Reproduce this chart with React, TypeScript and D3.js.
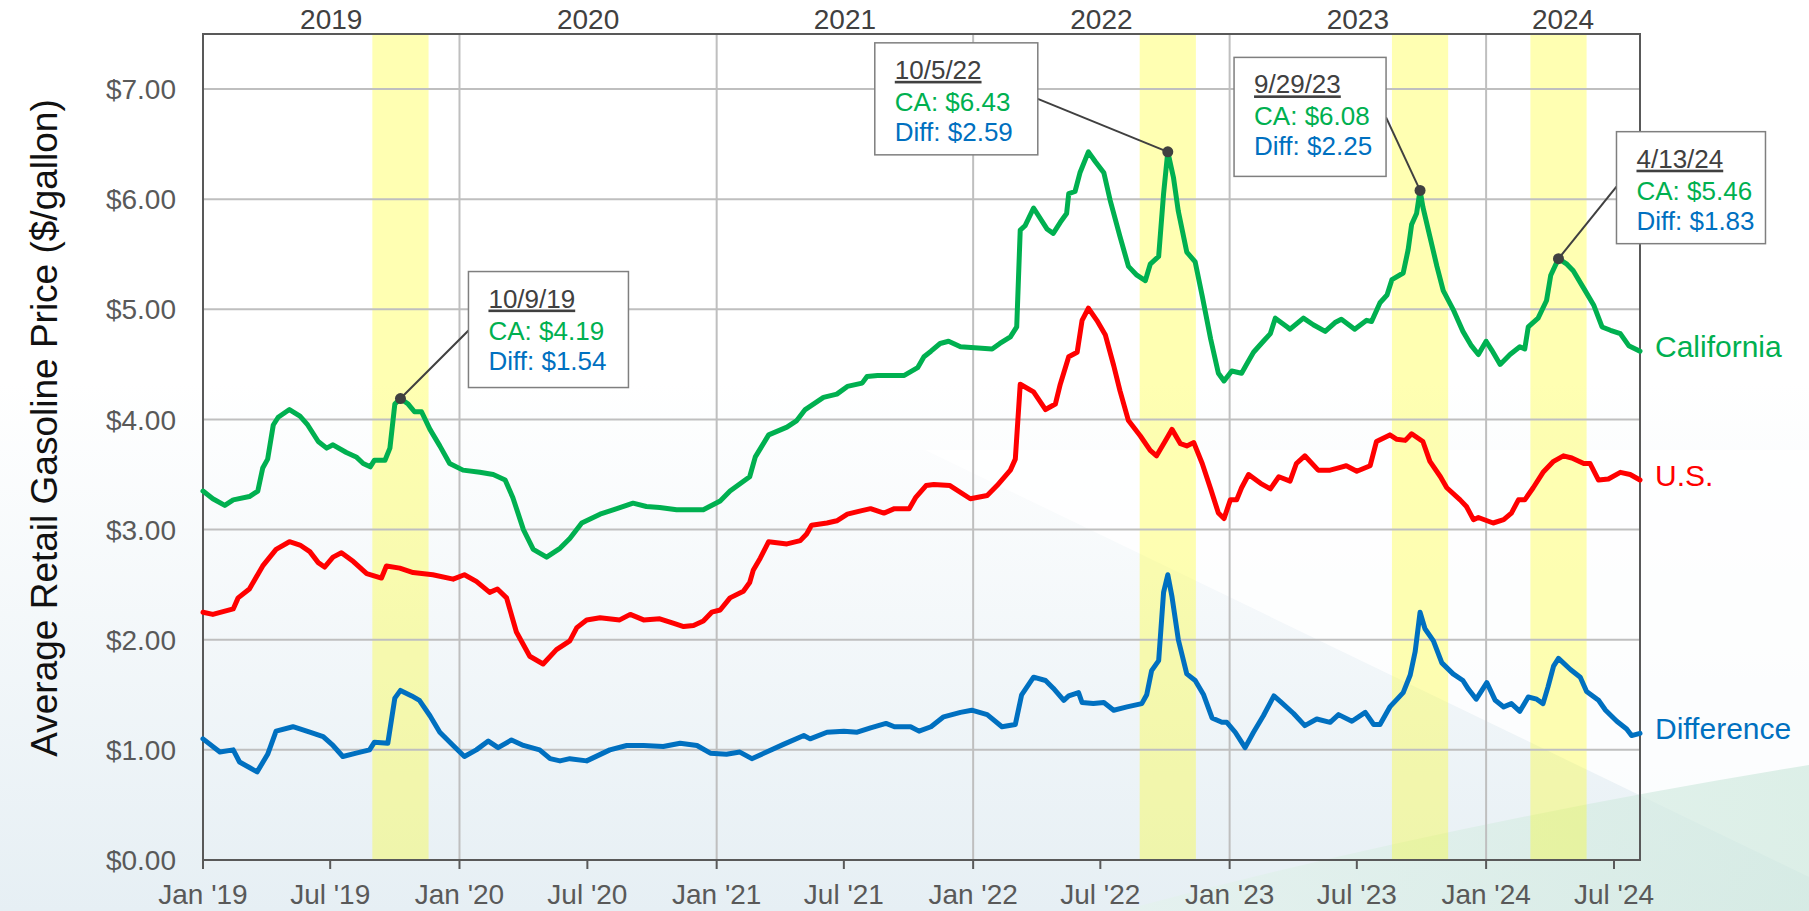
import React from 'react';
import * as d3 from 'd3';

// weekly retail prices ($/gallon)
const california: [string, number][] = [
  ['2019-01-01', 3.35], ['2019-01-15', 3.28], ['2019-02-01', 3.22], ['2019-02-13', 3.27], ['2019-03-08', 3.30],
  ['2019-03-20', 3.35], ['2019-03-27', 3.56], ['2019-04-03', 3.64], ['2019-04-11', 3.95], ['2019-04-18', 4.02],
  ['2019-05-04', 4.09], ['2019-05-19', 4.03], ['2019-05-30', 3.95], ['2019-06-14', 3.80], ['2019-06-26', 3.74],
  ['2019-07-05', 3.77], ['2019-07-24', 3.70], ['2019-08-07', 3.66], ['2019-08-17', 3.60], ['2019-08-27', 3.57],
  ['2019-09-02', 3.63], ['2019-09-17', 3.63], ['2019-09-24', 3.74], ['2019-10-01', 4.14], ['2019-10-09', 4.19],
  ['2019-10-20', 4.14], ['2019-10-29', 4.07], ['2019-11-08', 4.07], ['2019-11-20', 3.91], ['2019-12-04', 3.76],
  ['2019-12-18', 3.60], ['2020-01-06', 3.54], ['2020-01-30', 3.52], ['2020-02-18', 3.50], ['2020-03-06', 3.45],
  ['2020-03-17', 3.29], ['2020-04-01', 3.00], ['2020-04-15', 2.82], ['2020-05-04', 2.75], ['2020-05-23', 2.83],
  ['2020-06-06', 2.92], ['2020-06-23', 3.06], ['2020-07-19', 3.14], ['2020-08-12', 3.19], ['2020-09-04', 3.24],
  ['2020-09-23', 3.21], ['2020-10-12', 3.20], ['2020-11-05', 3.18], ['2020-11-24', 3.18], ['2020-12-13', 3.18],
  ['2021-01-06', 3.26], ['2021-01-20', 3.35], ['2021-02-17', 3.48], ['2021-02-25', 3.66], ['2021-03-16', 3.86],
  ['2021-04-11', 3.93], ['2021-04-25', 3.99], ['2021-05-07', 4.09], ['2021-06-02', 4.20], ['2021-06-21', 4.23],
  ['2021-07-06', 4.30], ['2021-07-27', 4.33], ['2021-08-03', 4.39], ['2021-08-18', 4.40], ['2021-09-25', 4.40],
  ['2021-10-14', 4.47], ['2021-10-23', 4.57], ['2021-11-02', 4.62], ['2021-11-15', 4.69], ['2021-11-27', 4.71],
  ['2021-12-14', 4.66], ['2022-01-28', 4.64], ['2022-02-08', 4.69], ['2022-02-23', 4.75], ['2022-03-04', 4.84],
  ['2022-03-09', 5.72], ['2022-03-16', 5.76], ['2022-03-28', 5.92], ['2022-04-16', 5.73], ['2022-04-25', 5.69],
  ['2022-05-05', 5.79], ['2022-05-14', 5.87], ['2022-05-17', 6.05], ['2022-05-26', 6.07], ['2022-06-02', 6.24],
  ['2022-06-14', 6.43], ['2022-06-24', 6.34], ['2022-07-06', 6.24], ['2022-07-15', 5.99], ['2022-07-29', 5.66],
  ['2022-08-10', 5.39], ['2022-08-22', 5.31], ['2022-09-03', 5.26], ['2022-09-10', 5.41], ['2022-09-22', 5.48],
  ['2022-09-29', 6.05], ['2022-10-05', 6.43], ['2022-10-13', 6.20], ['2022-10-20', 5.89], ['2022-11-01', 5.52],
  ['2022-11-13', 5.43], ['2022-11-23', 5.12], ['2022-12-05', 4.73], ['2022-12-16', 4.42], ['2022-12-24', 4.35],
  ['2023-01-04', 4.44], ['2023-01-18', 4.42], ['2023-01-26', 4.51], ['2023-02-04', 4.61], ['2023-02-18', 4.71],
  ['2023-02-28', 4.78], ['2023-03-07', 4.92], ['2023-03-24', 4.84], ['2023-03-28', 4.82], ['2023-04-16', 4.92],
  ['2023-04-30', 4.86], ['2023-05-17', 4.80], ['2023-05-31', 4.88], ['2023-06-09', 4.91], ['2023-06-28', 4.82],
  ['2023-07-15', 4.90], ['2023-07-22', 4.89], ['2023-08-03', 5.06], ['2023-08-13', 5.13], ['2023-08-20', 5.27],
  ['2023-09-05', 5.33], ['2023-09-12', 5.54], ['2023-09-17', 5.77], ['2023-09-24', 5.87], ['2023-09-29', 6.08],
  ['2023-10-03', 5.93], ['2023-10-13', 5.66], ['2023-10-23', 5.39], ['2023-11-01', 5.17], ['2023-11-15', 5.00],
  ['2023-11-29', 4.80], ['2023-12-11', 4.67], ['2023-12-21', 4.59], ['2024-01-01', 4.71], ['2024-01-09', 4.63],
  ['2024-01-21', 4.50], ['2024-02-04', 4.59], ['2024-02-18', 4.66], ['2024-02-25', 4.64], ['2024-03-01', 4.84],
  ['2024-03-15', 4.92], ['2024-03-27', 5.08], ['2024-04-02', 5.31], ['2024-04-13', 5.46], ['2024-04-25', 5.41],
  ['2024-05-04', 5.35], ['2024-05-19', 5.19], ['2024-06-02', 5.04], ['2024-06-14', 4.84], ['2024-06-26', 4.81],
  ['2024-07-10', 4.78], ['2024-07-22', 4.67], ['2024-08-07', 4.62],
];

const us: [string, number][] = [
  ['2019-01-01', 2.25], ['2019-01-15', 2.23], ['2019-02-13', 2.28], ['2019-02-20', 2.38], ['2019-03-08', 2.46],
  ['2019-03-27', 2.67], ['2019-04-15', 2.82], ['2019-05-04', 2.89], ['2019-05-19', 2.86], ['2019-06-02', 2.80],
  ['2019-06-14', 2.70], ['2019-06-23', 2.66], ['2019-07-05', 2.75], ['2019-07-17', 2.79], ['2019-08-03', 2.71],
  ['2019-08-22', 2.60], ['2019-09-12', 2.56], ['2019-09-19', 2.67], ['2019-10-08', 2.65], ['2019-10-27', 2.61],
  ['2019-11-24', 2.59], ['2019-12-23', 2.55], ['2020-01-08', 2.59], ['2020-01-25', 2.53], ['2020-02-13', 2.43],
  ['2020-02-24', 2.46], ['2020-03-08', 2.38], ['2020-03-22', 2.07], ['2020-04-10', 1.85], ['2020-04-29', 1.78],
  ['2020-05-18', 1.91], ['2020-06-06', 1.99], ['2020-06-16', 2.11], ['2020-06-30', 2.18], ['2020-07-19', 2.20],
  ['2020-08-16', 2.18], ['2020-08-31', 2.23], ['2020-09-19', 2.18], ['2020-10-12', 2.19], ['2020-10-31', 2.15],
  ['2020-11-15', 2.12], ['2020-11-29', 2.13], ['2020-12-13', 2.17], ['2020-12-25', 2.25], ['2021-01-06', 2.27],
  ['2021-01-20', 2.38], ['2021-02-08', 2.44], ['2021-02-17', 2.52], ['2021-02-22', 2.63], ['2021-03-04', 2.74],
  ['2021-03-16', 2.89], ['2021-04-11', 2.87], ['2021-04-30', 2.90], ['2021-05-09', 2.96], ['2021-05-16', 3.04],
  ['2021-06-07', 3.06], ['2021-06-21', 3.08], ['2021-07-06', 3.14], ['2021-07-25', 3.17], ['2021-08-08', 3.19],
  ['2021-08-27', 3.15], ['2021-09-11', 3.19], ['2021-10-02', 3.19], ['2021-10-11', 3.29], ['2021-10-26', 3.40],
  ['2021-11-06', 3.41], ['2021-11-29', 3.40], ['2021-12-28', 3.28], ['2022-01-21', 3.31], ['2022-02-04', 3.40],
  ['2022-02-23', 3.54], ['2022-03-02', 3.64], ['2022-03-09', 4.32], ['2022-03-28', 4.25], ['2022-04-14', 4.09],
  ['2022-04-28', 4.14], ['2022-05-05', 4.32], ['2022-05-17', 4.57], ['2022-05-29', 4.61], ['2022-06-05', 4.90],
  ['2022-06-14', 5.01], ['2022-06-26', 4.90], ['2022-07-08', 4.77], ['2022-07-20', 4.49], ['2022-07-29', 4.26],
  ['2022-08-10', 3.99], ['2022-08-27', 3.85], ['2022-09-10', 3.72], ['2022-09-19', 3.67], ['2022-10-01', 3.80],
  ['2022-10-11', 3.91], ['2022-10-23', 3.78], ['2022-11-01', 3.76], ['2022-11-11', 3.79], ['2022-11-23', 3.60],
  ['2022-12-05', 3.37], ['2022-12-16', 3.15], ['2022-12-24', 3.10], ['2023-01-02', 3.27], ['2023-01-11', 3.27],
  ['2023-01-18', 3.38], ['2023-01-28', 3.50], ['2023-02-14', 3.42], ['2023-02-28', 3.37], ['2023-03-12', 3.48],
  ['2023-03-28', 3.44], ['2023-04-06', 3.60], ['2023-04-18', 3.67], ['2023-05-07', 3.54], ['2023-05-24', 3.54],
  ['2023-06-05', 3.56], ['2023-06-16', 3.58], ['2023-07-01', 3.53], ['2023-07-20', 3.58], ['2023-07-29', 3.80],
  ['2023-08-17', 3.86], ['2023-08-27', 3.82], ['2023-09-08', 3.81], ['2023-09-17', 3.87], ['2023-10-03', 3.80],
  ['2023-10-13', 3.62], ['2023-10-28', 3.48], ['2023-11-06', 3.38], ['2023-11-25', 3.27], ['2023-12-04', 3.21],
  ['2023-12-14', 3.09], ['2023-12-21', 3.11], ['2024-01-11', 3.06], ['2024-01-26', 3.09], ['2024-02-06', 3.15],
  ['2024-02-16', 3.27], ['2024-02-25', 3.27], ['2024-03-08', 3.38], ['2024-03-22', 3.52], ['2024-04-06', 3.62],
  ['2024-04-20', 3.67], ['2024-05-02', 3.65], ['2024-05-19', 3.60], ['2024-05-28', 3.60], ['2024-06-09', 3.45],
  ['2024-06-23', 3.46], ['2024-07-10', 3.52], ['2024-07-24', 3.50], ['2024-08-07', 3.45],
];

const difference: [string, number][] = [
  ['2019-01-01', 1.10], ['2019-01-25', 0.98], ['2019-02-13', 1.00], ['2019-02-22', 0.89], ['2019-03-08', 0.84],
  ['2019-03-19', 0.80], ['2019-04-03', 0.96], ['2019-04-15', 1.17], ['2019-05-09', 1.21], ['2019-06-02', 1.16],
  ['2019-06-21', 1.12], ['2019-07-05', 1.04], ['2019-07-19', 0.94], ['2019-08-07', 0.97], ['2019-08-26', 1.00],
  ['2019-09-02', 1.07], ['2019-09-21', 1.06], ['2019-10-01', 1.47], ['2019-10-09', 1.54], ['2019-10-25', 1.49],
  ['2019-11-05', 1.45], ['2019-11-20', 1.31], ['2019-12-04', 1.16], ['2019-12-23', 1.04], ['2020-01-08', 0.94],
  ['2020-01-25', 1.00], ['2020-02-11', 1.08], ['2020-02-25', 1.02], ['2020-03-15', 1.09], ['2020-04-01', 1.04],
  ['2020-04-24', 1.00], ['2020-05-09', 0.92], ['2020-05-23', 0.90], ['2020-06-06', 0.92], ['2020-06-30', 0.90],
  ['2020-08-02', 1.00], ['2020-08-26', 1.04], ['2020-09-19', 1.04], ['2020-10-17', 1.03], ['2020-11-10', 1.06],
  ['2020-12-04', 1.04], ['2020-12-23', 0.97], ['2021-01-15', 0.96], ['2021-02-03', 0.98], ['2021-02-20', 0.92],
  ['2021-03-13', 0.98], ['2021-04-06', 1.05], ['2021-05-05', 1.13], ['2021-05-14', 1.10], ['2021-06-07', 1.16],
  ['2021-07-01', 1.17], ['2021-07-20', 1.16], ['2021-08-08', 1.20], ['2021-08-30', 1.24], ['2021-09-11', 1.21],
  ['2021-10-04', 1.21], ['2021-10-16', 1.17], ['2021-11-02', 1.21], ['2021-11-20', 1.30], ['2021-12-14', 1.34],
  ['2021-12-30', 1.36], ['2022-01-21', 1.32], ['2022-02-11', 1.21], ['2022-03-02', 1.23], ['2022-03-11', 1.50],
  ['2022-03-28', 1.66], ['2022-04-14', 1.63], ['2022-04-25', 1.56], ['2022-05-10', 1.45], ['2022-05-17', 1.49],
  ['2022-05-31', 1.52], ['2022-06-05', 1.43], ['2022-06-21', 1.42], ['2022-07-06', 1.43], ['2022-07-20', 1.36],
  ['2022-08-08', 1.39], ['2022-08-29', 1.42], ['2022-09-05', 1.50], ['2022-09-12', 1.72], ['2022-09-22', 1.81],
  ['2022-09-29', 2.43], ['2022-10-05', 2.59], ['2022-10-11', 2.39], ['2022-10-20', 2.00], ['2022-11-01', 1.69],
  ['2022-11-13', 1.63], ['2022-11-25', 1.50], ['2022-12-07', 1.29], ['2022-12-21', 1.25], ['2022-12-28', 1.25],
  ['2023-01-09', 1.16], ['2023-01-23', 1.02], ['2023-02-04', 1.16], ['2023-02-18', 1.31], ['2023-03-05', 1.49],
  ['2023-03-14', 1.44], ['2023-04-02', 1.33], ['2023-04-18', 1.22], ['2023-05-05', 1.28], ['2023-05-24', 1.25],
  ['2023-06-05', 1.32], ['2023-06-24', 1.26], ['2023-07-13', 1.34], ['2023-07-25', 1.23], ['2023-08-03', 1.23],
  ['2023-08-17', 1.39], ['2023-09-05', 1.52], ['2023-09-15', 1.68], ['2023-09-22', 1.89], ['2023-09-29', 2.25],
  ['2023-10-06', 2.10], ['2023-10-18', 1.99], ['2023-10-30', 1.79], ['2023-11-15', 1.69], ['2023-11-29', 1.63],
  ['2023-12-07', 1.55], ['2023-12-18', 1.46], ['2024-01-02', 1.61], ['2024-01-14', 1.45], ['2024-01-26', 1.39],
  ['2024-02-06', 1.42], ['2024-02-18', 1.35], ['2024-03-01', 1.48], ['2024-03-13', 1.46], ['2024-03-22', 1.42],
  ['2024-03-29', 1.57], ['2024-04-06', 1.76], ['2024-04-13', 1.83], ['2024-04-30', 1.73], ['2024-05-14', 1.66],
  ['2024-05-23', 1.53], ['2024-06-09', 1.45], ['2024-06-19', 1.36], ['2024-07-05', 1.26], ['2024-07-19', 1.19],
  ['2024-07-26', 1.13], ['2024-08-07', 1.15],
];

// peaks that get a callout and a highlighted band
const peakDates = ['2019-10-09', '2022-10-05', '2023-09-29', '2024-04-13'];
const peakLabels = ['10/9/19', '10/5/22', '9/29/23', '4/13/24'];
const peakCA = [4.19, 6.43, 6.08, 5.46];
const peakDiff = [1.54, 2.59, 2.25, 1.83];

const yTicks = [0, 1, 2, 3, 4, 5, 6, 7];
const seriesNames = ['California', 'U.S.', 'Difference'];
const seriesColors = ['#00b050', '#ff0000', '#0070c0'];

// box placement relative to the peak point (layout only)
const calloutLayout = [
  { dx: 68, dy: -127, w: 160, h: 116, side: 'left', ay: 59 },
  { dx: -293, dy: -109, w: 163, h: 112, side: 'right', ay: 56 },
  { dx: -186, dy: -133, w: 152, h: 119, side: 'right', ay: 60 },
  { dx: 58, dy: -127, w: 149, h: 112, side: 'left', ay: 55 },
];

const W = 1809;
const H = 911;
const margin = { left: 203, right: 1640, top: 34, bottom: 860 };
const font = '"Liberation Sans", Arial, sans-serif';

const parse = d3.timeParse('%Y-%m-%d') as (s: string) => Date;

const App = () => {
  const start = parse('2019-01-01');
  const end = parse('2024-08-07');
  const x = d3.scaleTime().domain([start, end]).range([margin.left, margin.right]);
  const y = d3.scaleLinear().domain([0, 7.5]).range([margin.bottom, margin.top]);

  const line = d3.line<[string, number]>()
    .x(d => x(parse(d[0])))
    .y(d => y(d[1]));

  const series = [california, us, difference];
  const monthTicks = d3.timeMonth.every(6)!.range(start, d3.timeDay.offset(end, 1));
  const yearLines = d3.timeYear.range(d3.timeYear.offset(start, 1), end);
  const years = d3.timeYear.range(start, end);
  const fmt = d3.timeFormat("%b '%y");

  return (
    <svg width={W} height={H} style={{ position: 'absolute', left: 0, top: 0 }} fontFamily={font}>
      <defs>
        <linearGradient id="bg" x1="0" y1="0" x2="0" y2="1">
          <stop offset="0" stopColor="#ffffff" />
          <stop offset="0.42" stopColor="#ffffff" />
          <stop offset="1" stopColor="#e6eff4" />
        </linearGradient>
        <linearGradient id="swoosh" x1="0" y1="0" x2="1" y2="0">
          <stop offset="0" stopColor="#e4f2ed" />
          <stop offset="1" stopColor="#cfe9de" />
        </linearGradient>
      </defs>

      {/* background */}
      <rect width={W} height={H} fill="url(#bg)" />
      <polygon points="925,450 1809,450 1809,877" fill="#ffffff" opacity={0.8} />
      <path d="M1120,911 Q1440,825 1809,765 L1809,911 Z" fill="url(#swoosh)" opacity={0.7} />

      {/* highlighted periods around the peaks */}
      {peakDates.map(d => {
        const p = parse(d);
        const x0 = x(d3.timeDay.offset(p, -40));
        const x1 = x(d3.timeDay.offset(p, 40));
        return <rect key={d} x={x0} y={margin.top} width={x1 - x0} height={margin.bottom - margin.top}
          fill="#ffff00" opacity={0.3} />;
      })}

      {/* grid */}
      {yTicks.slice(1).map(t => (
        <line key={t} x1={margin.left} x2={margin.right} y1={y(t)} y2={y(t)} stroke="#bfbfbf" strokeWidth={2} />
      ))}
      {yearLines.map(d => (
        <line key={+d} x1={x(d)} x2={x(d)} y1={margin.top} y2={margin.bottom} stroke="#bfbfbf" strokeWidth={2} />
      ))}

      {/* frame */}
      <rect x={margin.left} y={margin.top} width={margin.right - margin.left} height={margin.bottom - margin.top}
        fill="none" stroke="#595959" strokeWidth={2} />

      {/* y axis labels */}
      {yTicks.map(t => (
        <text key={t} x={margin.left - 27} y={y(t)} dy="0.36em" textAnchor="end" fontSize={28} fill="#595959">
          {d3.format('$.2f')(t)}
        </text>
      ))}
      <text transform={`translate(44, 428) rotate(-90)`} textAnchor="middle" dy="0.35em" fontSize={37} fill="#111">
        Average Retail Gasoline Price ($/gallon)
      </text>

      {/* x axis ticks */}
      {monthTicks.map(d => (
        <g key={+d}>
          <line x1={x(d)} x2={x(d)} y1={margin.bottom} y2={margin.bottom + 9} stroke="#595959" strokeWidth={2} />
          <text x={x(d)} y={904} textAnchor="middle" fontSize={28} fill="#595959">{fmt(d)}</text>
        </g>
      ))}
      {years.map(d => {
        const a = x(d);
        const b = x(d3.min([d3.timeYear.offset(d, 1), end]) as Date);
        return <text key={+d} x={(a + b) / 2} y={29} textAnchor="middle" fontSize={28} fill="#404040">
          {d.getFullYear()}
        </text>;
      })}

      {/* series */}
      {series.map((s, i) => (
        <path key={seriesNames[i]} d={line(s) ?? ''} fill="none" stroke={seriesColors[i]} strokeWidth={5}
          strokeLinejoin="round" strokeLinecap="round" />
      ))}
      {series.map((s, i) => (
        <text key={seriesNames[i]} x={margin.right + 15} y={y(s[s.length - 1][1]) - 5} dy="0.35em"
          fontSize={30} fill={seriesColors[i]}>
          {seriesNames[i]}
        </text>
      ))}

      {/* callouts */}
      {peakDates.map((d, i) => {
        const px = x(parse(d));
        const py = y(peakCA[i]);
        const L = calloutLayout[i];
        const bx = px + L.dx;
        const by = py + L.dy;
        const ax = L.side === 'left' ? bx : bx + L.w;
        return (
          <g key={d}>
            <line x1={px} y1={py} x2={ax} y2={by + L.ay} stroke="#404040" strokeWidth={2} />
            <circle cx={px} cy={py} r={5.5} fill="#404040" />
            <rect x={bx} y={by} width={L.w} height={L.h} fill="#ffffff" stroke="#7f7f7f" strokeWidth={1.5} />
            <text x={bx + 20} y={by + 36} fontSize={26} fill="#404040" style={{ textDecoration: 'underline' }}>
              {peakLabels[i]}
            </text>
            <text x={bx + 20} y={by + 68} fontSize={26} fill="#00b050">CA: {d3.format('$.2f')(peakCA[i])}</text>
            <text x={bx + 20} y={by + 98} fontSize={26} fill="#0070c0">Diff: {d3.format('$.2f')(peakDiff[i])}</text>
          </g>
        );
      })}
    </svg>
  );
};

export default App;
